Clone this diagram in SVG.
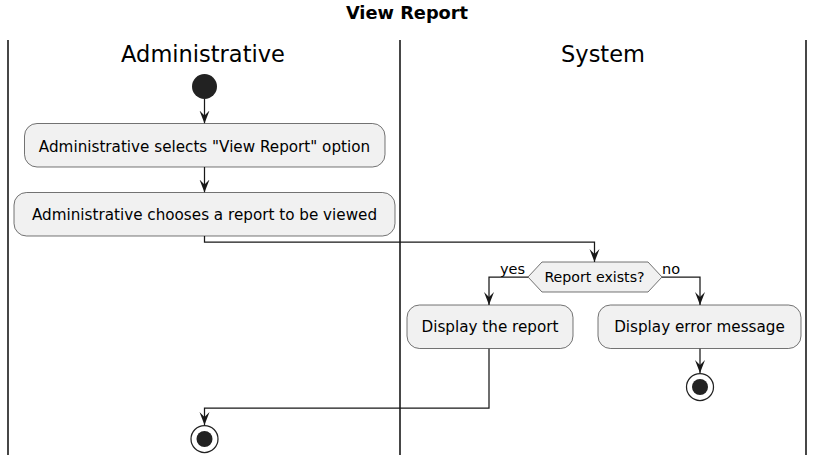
<svg xmlns="http://www.w3.org/2000/svg" width="814" height="460" viewBox="0 0 814 460">
<style>
text{font-family:"DejaVu Sans","Liberation Sans",sans-serif;fill:#000}
.title{font-size:17.8px;font-weight:bold}
.lane{font-size:22.5px}
.act{font-size:15.2px}
.dec{font-size:14.2px}
.lbl{font-size:14.5px}
.box{fill:#F1F1F1;stroke:#181818;stroke-width:0.6}
.lanel{stroke:#181818;stroke-width:1.6}
.edge{fill:none;stroke:#181818;stroke-width:1.25}
</style>
<defs>
<marker id="ah" markerWidth="14" markerHeight="12" refX="13" refY="6" orient="auto" markerUnits="userSpaceOnUse">
<path d="M0,1 L13,6 L0,11 L5,6 Z" fill="#181818"/>
</marker>
</defs>
<rect width="814" height="460" fill="#fff"/>
<text class="title" x="407" y="18.5" text-anchor="middle">View Report</text>
<g id="lanes">
<line class="lanel" x1="8" y1="40" x2="8" y2="455"/>
<line class="lanel" x1="400" y1="40" x2="400" y2="455"/>
<line class="lanel" x1="806" y1="40" x2="806" y2="455"/>
<text class="lane" x="203" y="62" text-anchor="middle">Administrative</text>
<text class="lane" x="603" y="62" text-anchor="middle">System</text>
</g>
<g id="connectors">
<line class="edge" x1="204.5" y1="99" x2="204.5" y2="123.5" marker-end="url(#ah)"/>
<line class="edge" x1="204.5" y1="167" x2="204.5" y2="192.5" marker-end="url(#ah)"/>
<polyline class="edge" points="204.5,236 204.5,242 594.5,242 594.5,262" marker-end="url(#ah)"/>
<polyline class="edge" points="528,277 489,277 489,305" marker-end="url(#ah)"/>
<polyline class="edge" points="662,277 700,277 700,305" marker-end="url(#ah)"/>
<line class="edge" x1="700" y1="348.5" x2="700" y2="373" marker-end="url(#ah)"/>
<polyline class="edge" points="489,348.5 489,408 204.5,408 204.5,425" marker-end="url(#ah)"/>
<text class="lbl" x="500" y="274">yes</text>
<text class="lbl" x="662" y="274">no</text>
</g>
<g id="start">
<circle cx="204.5" cy="86.5" r="12.5" fill="#222"/>
</g>
<g id="selectOption">
<rect class="box" x="24.5" y="123.5" width="360.5" height="43.5" rx="12.5"/>
<text class="act" x="204.5" y="151.5" text-anchor="middle">Administrative selects "View Report" option</text>
</g>
<g id="chooseReport">
<rect class="box" x="14" y="192.5" width="381" height="43.5" rx="12.5"/>
<text class="act" x="204.5" y="220" text-anchor="middle">Administrative chooses a report to be viewed</text>
</g>
<g id="decision">
<polygon class="box" points="528,277 542,262 648,262 662,277 648,292 542,292"/>
<text class="dec" x="594.5" y="282" text-anchor="middle">Report exists?</text>
</g>
<g id="displayReport">
<rect class="box" x="407" y="305" width="166" height="43.5" rx="12.5"/>
<text class="act" x="490" y="331.5" text-anchor="middle">Display the report</text>
</g>
<g id="displayError">
<rect class="box" x="598" y="305" width="203" height="43.5" rx="12.5"/>
<text class="act" x="699.5" y="331.5" text-anchor="middle">Display error message</text>
</g>
<g id="end1">
<circle cx="700" cy="387" r="13.5" fill="none" stroke="#222" stroke-width="1.25"/>
<circle cx="700" cy="387" r="8" fill="#222"/>
</g>
<g id="end2">
<circle cx="204.5" cy="439" r="13.5" fill="none" stroke="#222" stroke-width="1.25"/>
<circle cx="204.5" cy="439" r="8" fill="#222"/>
</g>
</svg>
